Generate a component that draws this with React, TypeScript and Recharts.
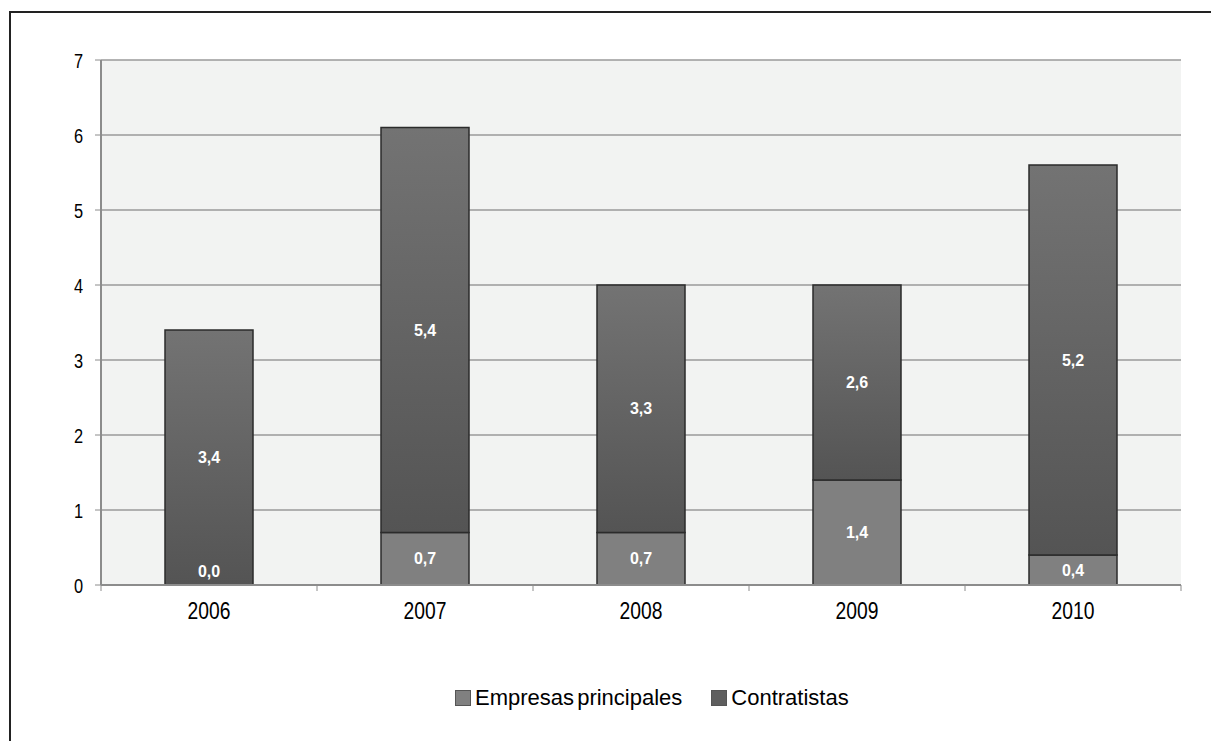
import React from "react";
import {
  Bar,
  BarChart,
  CartesianGrid,
  LabelList,
  Legend,
  XAxis,
  YAxis
} from "recharts";

const years = ["2006", "2007", "2008", "2009", "2010"];
const empresasPrincipales = [0.0, 0.7, 0.7, 1.4, 0.4];
const contratistas = [3.4, 5.4, 3.3, 2.6, 5.2];
const yTicks = [0, 1, 2, 3, 4, 5, 6, 7];

const data = years.map((year, i) => ({
  year,
  empresas: empresasPrincipales[i],
  contratistas: contratistas[i]
}));

const FONT = "'Liberation Sans', Arial, sans-serif";

function fmt(v: number) {
  return v.toFixed(1).replace(".", ",");
}

function labelText(x: number, y: number, v: number, key?: string) {
  return (
    <text
      key={key}
      x={x}
      y={y}
      dy="0.35em"
      textAnchor="middle"
      fill="#ffffff"
      fontFamily={FONT}
      fontWeight="bold"
      fontSize={16}
    >
      {fmt(v)}
    </text>
  );
}

function EmpresasLabel(props: any) {
  const { x, y, width, height, value } = props;
  if (!(height > 0)) return null;
  return labelText(x + width / 2, y + height / 2, Number(value));
}

// zero-height segments of the lower series are labelled here, so the upper bar does not hide them
function ContratistasLabel(props: any) {
  const { x, y, width, height, value, index } = props;
  const cx = x + width / 2;
  return (
    <g>
      {labelText(cx, y + height / 2, Number(value), "c")}
      {empresasPrincipales[index] === 0 && labelText(cx, y + height - 14, 0, "e")}
    </g>
  );
}

// narrow-looking tick text, like the condensed font of the original
function NarrowText({ x, y, size, sx, anchor, dy, children }: any) {
  return (
    <g transform={`translate(${x},${y}) scale(${sx},1)`}>
      <text x={0} y={0} dy={dy} textAnchor={anchor} fill="#000" fontFamily={FONT} fontSize={size}>
        {children}
      </text>
    </g>
  );
}

function YearTick(props: any) {
  const { x, y, payload, index } = props;
  const half = payload.offset ?? 0;
  const axisY = y - 18;
  return (
    <g>
      <line x1={x - half} x2={x - half} y1={axisY} y2={axisY + 6} stroke="#8c8c8c" />
      {index === years.length - 1 && (
        <line x1={x + half} x2={x + half} y1={axisY} y2={axisY + 6} stroke="#8c8c8c" />
      )}
      <NarrowText x={x} y={y} size={23} sx={0.84} anchor="middle" dy="0.71em">
        {payload.value}
      </NarrowText>
    </g>
  );
}

function ValueTick(props: any) {
  const { x, y, payload } = props;
  return (
    <NarrowText x={x} y={y} size={21} sx={0.78} anchor="end" dy="0.36em">
      {payload.value}
    </NarrowText>
  );
}

function LegendContent() {
  const items = [
    { label: "Empresas principales", color: "#808080" },
    { label: "Contratistas", color: "#5e5e5e" }
  ];
  return (
    <div
      style={{
        display: "flex",
        alignItems: "center",
        whiteSpace: "nowrap",
        fontFamily: FONT,
        fontSize: 22,
        color: "#000"
      }}
    >
      {items.map((it) => (
        <div key={it.label} style={{ display: "flex", alignItems: "center", marginRight: 29 }}>
          <span
            style={{
              display: "inline-block",
              width: 14,
              height: 14,
              background: it.color,
              border: "1px solid #555",
              marginRight: 4
            }}
          />
          <span style={{ wordSpacing: -3 }}>{it.label}</span>
        </div>
      ))}
    </div>
  );
}

export default function App() {
  return (
    <div
      style={{
        marginTop: 3,
        marginLeft: 1,
        width: 1208,
        height: 728,
        overflow: "hidden",
        borderLeft: "2px solid #222",
        borderTop: "2px solid #222",
        background: "#fff"
      }}
    >
      <style>{"html,body{overflow:hidden}"}</style>
      <BarChart
        width={1208}
        height={736}
        data={data}
        margin={{ top: 47, right: 38, left: 0, bottom: 98 }}
        barSize={88}
      >
        <defs>
          <linearGradient id="gradContr" x1="0" y1="0" x2="0" y2="1">
            <stop offset="0%" stopColor="#737373" />
            <stop offset="100%" stopColor="#545454" />
          </linearGradient>
        </defs>
        <CartesianGrid vertical={false} stroke="#9a9a9a" strokeWidth={1.5} fill="#f2f3f2" />
        <XAxis
          dataKey="year"
          tickLine={false}
          tickSize={6}
          tickMargin={12}
          height={40}
          axisLine={{ stroke: "#8c8c8c", strokeWidth: 2 }}
          tick={<YearTick />}
          interval={0}
        />
        <YAxis
          width={90}
          domain={[0, 7]}
          ticks={yTicks}
          interval={0}
          tickSize={6}
          tickMargin={12}
          axisLine={{ stroke: "#8c8c8c", strokeWidth: 2 }}
          tickLine={{ stroke: "#8c8c8c" }}
          tick={<ValueTick />}
        />
        <YAxis
          yAxisId="right"
          orientation="right"
          width={0}
          domain={[0, 7]}
          tick={false}
          tickLine={false}
          axisLine={{ stroke: "#9a9a9a", strokeWidth: 2 }}
        />
        <Legend
          verticalAlign="bottom"
          align="left"
          content={<LegendContent />}
          wrapperStyle={{ left: 444, bottom: "auto", top: 672, width: 500 }}
        />
        <Bar
          dataKey="empresas"
          name="Empresas principales"
          stackId="a"
          fill="#808080"
          stroke="#2b2b2b"
          strokeWidth={1.5}
          isAnimationActive={false}
        >
          <LabelList dataKey="empresas" content={<EmpresasLabel />} />
        </Bar>
        <Bar
          dataKey="contratistas"
          name="Contratistas"
          stackId="a"
          fill="url(#gradContr)"
          stroke="#2b2b2b"
          strokeWidth={1.5}
          isAnimationActive={false}
        >
          <LabelList dataKey="contratistas" content={<ContratistasLabel />} />
        </Bar>
      </BarChart>
    </div>
  );
}
